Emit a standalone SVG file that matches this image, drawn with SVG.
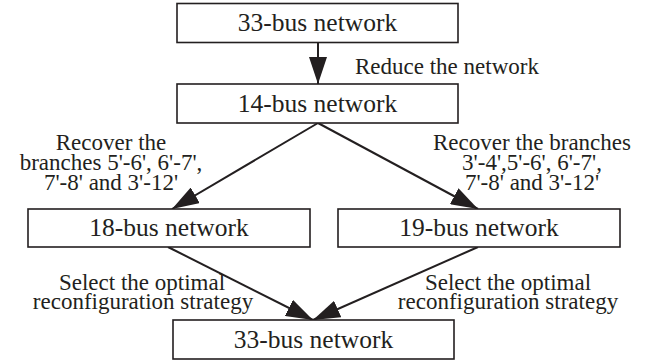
<svg xmlns="http://www.w3.org/2000/svg" width="654" height="362" viewBox="0 0 654 362">
<style>
.box{fill:#ffffff;stroke:#231f20;stroke-width:1.6}
.bt{font-family:"Liberation Serif","Times New Roman",serif;font-size:25.5px;fill:#231f20;text-anchor:middle}
.lb{font-family:"Liberation Serif","Times New Roman",serif;font-size:23px;fill:#231f20}
.c{text-anchor:middle}
.ln{stroke:#231f20;stroke-width:2;fill:none;marker-end:url(#ah)}
</style>
<defs>
<marker id="ah" markerUnits="userSpaceOnUse" markerWidth="27" markerHeight="18" refX="27" refY="9" orient="auto">
<path d="M0,0 L27,9 L0,18 z" fill="#231f20"/>
</marker>
</defs>
<rect width="654" height="362" fill="#ffffff"/>
<g id="connectors">
<line class="ln" x1="318" y1="43" x2="318" y2="84"/>
<line class="ln" x1="318" y1="123" x2="172" y2="209"/>
<line class="ln" x1="318" y1="123" x2="478" y2="209"/>
<line class="ln" x1="168" y1="247" x2="313" y2="320"/>
<line class="ln" x1="478" y1="247" x2="313" y2="320"/>
</g>
<g id="labels">
<text class="lb" x="355" y="74">Reduce the network</text>
<text class="lb c" x="111" y="150">Recover the</text>
<text class="lb c" x="111" y="170">branches 5'-6', 6'-7',</text>
<text class="lb c" x="111" y="190">7'-8' and 3'-12'</text>
<text class="lb c" x="532" y="150">Recover the branches</text>
<text class="lb c" x="532" y="170">3'-4',5'-6', 6'-7',</text>
<text class="lb c" x="532" y="190">7'-8' and 3'-12'</text>
<text class="lb c" x="142" y="290">Select the optimal</text>
<text class="lb c" x="143" y="309">reconfiguration strategy</text>
<text class="lb c" x="508" y="290">Select the optimal</text>
<text class="lb c" x="508" y="309">reconfiguration strategy</text>
</g>
<g id="n33top">
<rect class="box" x="177" y="3.5" width="281" height="39"/>
<text class="bt" x="317.5" y="31">33-bus network</text>
</g>
<g id="n14">
<rect class="box" x="177" y="84" width="281" height="39"/>
<text class="bt" x="317.5" y="111.5">14-bus network</text>
</g>
<g id="n18">
<rect class="box" x="28" y="209" width="282" height="38"/>
<text class="bt" x="169" y="236">18-bus network</text>
</g>
<g id="n19">
<rect class="box" x="338" y="209" width="282" height="38"/>
<text class="bt" x="479" y="236">19-bus network</text>
</g>
<g id="n33bot">
<rect class="box" x="173" y="320" width="281" height="39"/>
<text class="bt" x="313.5" y="347.5">33-bus network</text>
</g>
</svg>
